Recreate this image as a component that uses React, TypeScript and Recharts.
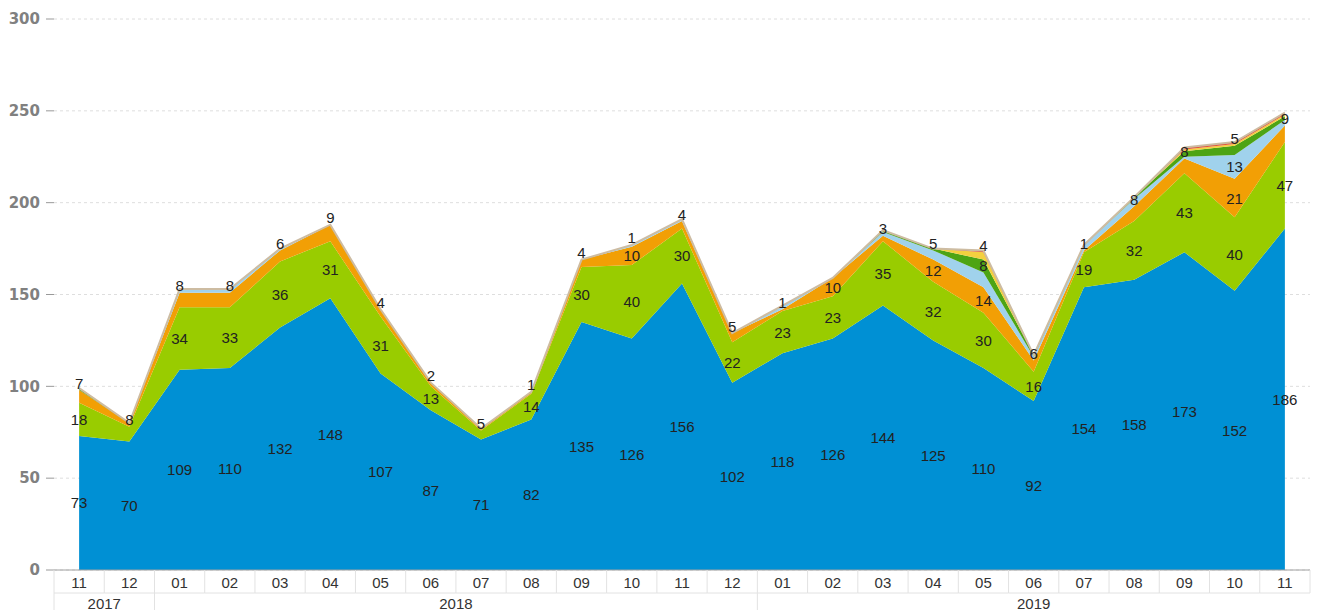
import { Area, AreaChart, CartesianGrid, LabelList, XAxis, YAxis } from "recharts"

const months = ["11", "12", "01", "02", "03", "04", "05", "06", "07", "08", "09", "10", "11", "12", "01", "02", "03", "04", "05", "06", "07", "08", "09", "10", "11"]
const years = ["2017", "2017", "2018", "2018", "2018", "2018", "2018", "2018", "2018", "2018", "2018", "2018", "2018", "2018", "2019", "2019", "2019", "2019", "2019", "2019", "2019", "2019", "2019", "2019", "2019"]

const blue = [73, 70, 109, 110, 132, 148, 107, 87, 71, 82, 135, 126, 156, 102, 118, 126, 144, 125, 110, 92, 154, 158, 173, 152, 186]
const lime = [18, 8, 34, 33, 36, 31, 31, 13, 5, 14, 30, 40, 30, 22, 23, 23, 35, 32, 30, 16, 19, 32, 43, 40, 47]
const orange = [7, 2, 8, 8, 6, 9, 4, 2, 1, 1, 4, 10, 4, 5, 1, 10, 3, 12, 14, 6, 1, 8, 8, 21, 9]
const lightBlue = [0, 0, 2, 2, 1, 0, 0, 0, 0, 0, 0, 1, 1, 0, 2, 0, 2, 5, 8, 2, 3, 4, 1, 13, 3]
const darkGreen = [1, 0, 0, 0, 0, 0, 0, 0, 0, 0, 0, 0, 0, 0, 0, 0, 1, 1, 7, 1, 0, 1, 3, 5, 2]
const yellow = [0, 0, 0, 0, 0, 0, 0, 0, 0, 0, 0, 0, 0, 0, 0, 0, 0, 0, 4, 0, 0, 0, 1, 1, 1]
const red = [0, 0, 0, 0, 0, 0, 0, 0, 0, 0, 0, 0, 0, 0, 0, 0, 0, 0, 1, 0, 0, 0, 1, 1, 1]

const yTicks = [0, 50, 100, 150, 200, 250, 300]

const series = [
  { key: "blue", values: blue, color: "#0090D4" },
  { key: "lime", values: lime, color: "#99CC00" },
  { key: "orange", values: orange, color: "#F29F05" },
  { key: "lightBlue", values: lightBlue, color: "#A0D2EC" },
  { key: "darkGreen", values: darkGreen, color: "#4DA414" },
  { key: "yellow", values: yellow, color: "#F4D03F" },
  { key: "red", values: red, color: "#E0533A" },
]

const data = months.map((m, i) => {
  const row: Record<string, string | number> = { month: m, year: years[i] }
  series.forEach((s) => (row[s.key] = s.values[i]))
  return row
})

const W = 1319
const H = 610
const M = { top: 19, right: 9, left: 0, bottom: 0 }
const Y_W = 54
const MONTH_H = 23
const YEAR_H = 17
const PLOT_W = W - Y_W - M.right
const PLOT_H = H - M.top - MONTH_H - YEAR_H
const BAND = PLOT_W / months.length
const K = PLOT_H / 300
const FONT = "Arial, 'Liberation Sans', sans-serif"

// label spots for one column, relative to the top of the stack (px)
function columnLabels(i: number) {
  const total = series.reduce((a, s) => a + s.values[i], 0)
  const out: { v: number; dy: number }[] = []
  const taken: number[] = []
  let cum = 0
  for (const s of series) {
    const v = s.values[i]
    cum += v
    if (!v) continue
    const topPx = (total - cum) * K
    const pos = v >= 10 ? topPx + (v * K) / 2 : topPx - 7
    if (taken.some((p) => Math.abs(p - pos) < 16)) continue
    taken.push(pos)
    out.push({ v, dy: pos })
  }
  return out
}

function StackLabels(props: any) {
  const x = props.x ?? props.viewBox?.x
  const y = props.y ?? props.viewBox?.y
  const i = props.index
  if (x == null || y == null || i == null) return null
  return (
    <g>
      {columnLabels(i).map((l, k) => (
        <text key={k} x={x} y={y + l.dy} textAnchor="middle" dominantBaseline="central" fontSize={15} fontFamily={FONT} fill="#222">
          {l.v}
        </text>
      ))}
    </g>
  )
}

function MonthTick(props: any) {
  const { x, y, payload, index } = props
  const h = BAND / 2
  return (
    <g>
      <line x1={x - h} x2={x - h} y1={y} y2={y + MONTH_H} stroke="#e2e2e2" />
      {index === months.length - 1 && <line x1={x + h} x2={x + h} y1={y} y2={y + MONTH_H} stroke="#e2e2e2" />}
      <line x1={x - h} x2={x + h} y1={y + MONTH_H} y2={y + MONTH_H} stroke="#e2e2e2" />
      <text x={x} y={y + 12} textAnchor="middle" dominantBaseline="central" fontSize={15} fontFamily={FONT} fill="#333">
        {payload.value}
      </text>
    </g>
  )
}

function YearTick(props: any) {
  const { x, y, index } = props
  const yr = years[index]
  if (index > 0 && years[index - 1] === yr) return null
  let n = 0
  while (years[index + n] === yr) n++
  const left = x - BAND / 2
  return (
    <g>
      <line x1={left} x2={left} y1={y} y2={y + 30} stroke="#e2e2e2" />
      <text x={left + (n * BAND) / 2} y={y + 10} textAnchor="middle" dominantBaseline="central" fontSize={15} fontFamily={FONT} fill="#333">
        {yr}
      </text>
    </g>
  )
}

export default function App() {
  return (
    <div style={{ position: "absolute", left: 0, top: 0, background: "#fff" }}>
      <AreaChart width={W} height={H} data={data} margin={M}>
        <CartesianGrid strokeDasharray="3 3" stroke="#dedede" vertical={false} />
        <YAxis
          domain={[0, 300]}
          ticks={yTicks}
          width={Y_W}
          axisLine={false}
          tickSize={8}
          tickMargin={6}
          tickLine={{ stroke: "#999" }}
          tick={{ fill: "#808080", fontSize: 15, fontWeight: "bold", fontFamily: "'DejaVu Sans', sans-serif" }}
        />
        <XAxis
          dataKey="month"
          height={MONTH_H}
          interval={0}
          padding={{ left: BAND / 2, right: BAND / 2 }}
          tickSize={0}
          tickMargin={0}
          tickLine={false}
          axisLine={{ stroke: "#a0a0a0" }}
          tick={<MonthTick />}
        />
        <XAxis
          xAxisId="year"
          dataKey="year"
          height={YEAR_H}
          interval={0}
          padding={{ left: BAND / 2, right: BAND / 2 }}
          tickSize={0}
          tickMargin={0}
          tickLine={false}
          axisLine={false}
          tick={<YearTick />}
        />
        {series.map((s, idx) => (
          <Area
            key={s.key}
            type="linear"
            dataKey={s.key}
            stackId="a"
            fill={s.color}
            fillOpacity={1}
            stroke={idx === series.length - 1 ? "#CDBCA2" : "none"}
            strokeWidth={2}
            dot={false}
            activeDot={false}
            isAnimationActive={false}
          >
            {idx === series.length - 1 && <LabelList dataKey={s.key} content={<StackLabels />} />}
          </Area>
        ))}
      </AreaChart>
    </div>
  )
}
